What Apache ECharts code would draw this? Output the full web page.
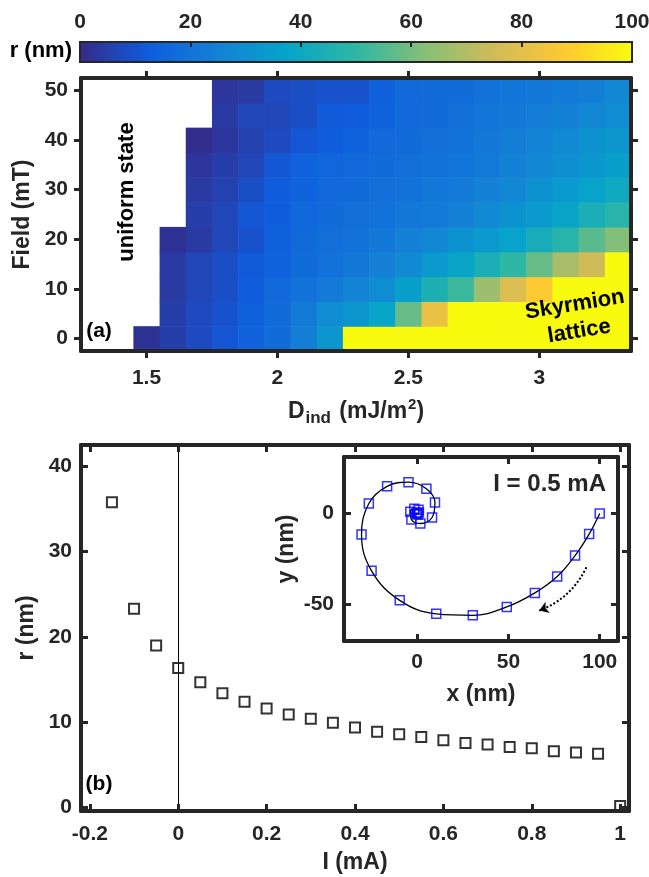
<!DOCTYPE html>
<html>
<head>
<meta charset="utf-8">
<script src="https://cdn.jsdelivr.net/npm/echarts@6/dist/echarts.min.js"></script>
<style>
  html, body { margin: 0; padding: 0; background: #fff; }
  #chart { width: 649px; height: 877px; }
</style>
</head>
<body>
<div id="chart"></div>
<script>
// ---- panel (a): radius map ----
const dValues = [1.5, 1.6, 1.7, 1.8, 1.9, 2.0, 2.1, 2.2, 2.3, 2.4, 2.5, 2.6, 2.7, 2.8, 2.9, 3.0, 3.1, 3.2, 3.3]
const fieldValues = [0, 5, 10, 15, 20, 25, 30, 35, 40, 45, 50]
// r (nm) per field row (same order as fieldValues), null = uniform state, 100 = lattice
const radiusMap = [
  [2, 5, 8, 11, 15, 18, 24, 33, 100, 100, 100, 100, 100, 100, 100, 100, 100, 100, 100],
  [null, 5, 8, 10, 14, 18, 23, 29, 33, 38, 58, 82, 100, 100, 100, 100, 100, 100, 100],
  [null, 4, 7, 9, 13, 17, 20, 23, 26, 29, 36, 45, 52, 66, 78, 88, 100, 100, 100],
  [null, 4, 7, 9, 12, 15, 18, 20, 22, 25, 28, 34, 38, 44, 50, 58, 68, 75, 100],
  [null, 2, 4, 7, 10, 14, 17, 19, 20, 22, 25, 27, 31, 34, 37, 43, 48, 56, 62],
  [null, null, 5, 7, 11, 13, 16, 18, 19, 20, 22, 23, 25, 28, 31, 34, 38, 44, 48],
  [null, null, 4, 6, 9, 13, 15, 17, 18, 19, 20, 22, 23, 25, 27, 31, 34, 37, 41],
  [null, null, 3, 5, 7, 11, 15, 16, 17, 18, 19, 20, 21, 23, 25, 27, 30, 33, 36],
  [null, null, 1, 3, 6, 8, 11, 13, 15, 17, 18, 19, 20, 22, 24, 26, 28, 31, 33],
  [null, null, null, 4, 7, 7, 9, 12, 13, 15, 17, 18, 19, 21, 22, 24, 25, 27, 29],
  [null, null, null, 3, 4, 8, 9, 10, 10, 14, 17, 18, 18, 20, 21, 22, 23, 24, 27],
]
const colorbarTicks = [0, 20, 40, 60, 80, 100]
const dTicks = [1.5, 2, 2.5, 3]
const fieldTicks = [0, 10, 20, 30, 40, 50]

// ---- panel (b): radius vs current ----
const currentValues = [-0.15, -0.1, -0.05, 0, 0.05, 0.1, 0.15, 0.2, 0.25, 0.3, 0.35, 0.4,
  0.45, 0.5, 0.55, 0.6, 0.65, 0.7, 0.75, 0.8, 0.85, 0.9, 0.95, 1.0]
const radiusValues = [35.8, 23.3, 19.0, 16.35, 14.7, 13.4, 12.4, 11.6, 10.9, 10.4, 9.95, 9.4,
  8.9, 8.6, 8.27, 7.9, 7.57, 7.4, 7.1, 6.95, 6.6, 6.45, 6.3, 0.2]
const currentTicks = [-0.2, 0, 0.2, 0.4, 0.6, 0.8, 1]
const radiusTicks = [0, 10, 20, 30, 40]

// ---- inset: trajectory at I = 0.5 mA ----
const trajX = [100, 94.2, 86.5, 76.7, 64.5, 49.1, 30.5, 10.5, -9.5, -24.9, -30.4, -26.4, -16.4,
  -4.7, 5.1, 9.8, 8.2, 1.8, -3.1, -3.7, -1.5, 0.8, 1.0, 0.2, -0.3, 0]
const trajY = [0, -11.3, -23.1, -34.6, -43.6, -51.3, -55.9, -55.1, -47.7, -31.5, -11.5, 5.5, 14.9,
  17.2, 13.6, 6.0, -2.2, -5.5, -3.3, 0.9, 2.6, 2.0, 0.5, -0.5, 0.3, 0]
const arrowStart = [92.7, -29.5]
const arrowEnd = [66.9, -53.3]
const xTicks = [0, 50, 100]
const yTicks = [-50, 0]

const parula = ['#352A87', '#0F5CDD', '#1481D6', '#06A4CA', '#2EB7A4', '#87BF77', '#D1BB59', '#FEC832', '#F9FB0E']
const ink = '#262626'
const fontFamily = 'Liberation Sans, Arial, sans-serif'
const tickFont = { fontFamily, fontWeight: 'bold', fontSize: 21, color: ink }
const titleFont = { fontFamily, fontWeight: 'bold', fontSize: 23, color: ink }
const cellW = 0.1
const cellH = 5

const heatData = []
radiusMap.forEach((row, i) => {
  row.forEach((r, j) => {
    if (r !== null) heatData.push([dValues[j], fieldValues[i], r])
  })
})

function frameAxis(gridIndex, position, min, max, ticks, o) {
  o = o || {}
  const ax = {
    type: 'value', gridIndex, position, min, max, z: 10,
    axisLine: { show: true, onZero: false, lineStyle: { color: ink, width: o.lineWidth || 4 } },
    axisTick: { show: !!ticks, inside: o.inside !== false, length: o.tickLen || 7, customValues: ticks || [],
      lineStyle: { color: ink, width: o.tickWidth || 3 } },
    axisLabel: { show: o.margin !== undefined, margin: o.margin, customValues: ticks || [], ...tickFont },
    splitLine: { show: false },
  }
  if (o.name) {
    ax.name = o.name
    ax.nameLocation = 'middle'
    ax.nameGap = o.nameGap
    ax.nameTextStyle = Object.assign({}, titleFont, o.nameStyle || {})
  }
  return ax
}

function renderCell(params, api) {
  const d = api.value(0)
  const f = api.value(1)
  const p0 = api.coord([d - cellW / 2, f + cellH / 2])
  const p1 = api.coord([d + cellW / 2, f - cellH / 2])
  const shape = echarts.graphic.clipRectByRect(
    { x: p0[0], y: p0[1], width: p1[0] - p0[0] + 0.6, height: p1[1] - p0[1] + 0.6 },
    { x: params.coordSys.x, y: params.coordSys.y, width: params.coordSys.width, height: params.coordSys.height })
  return shape && { type: 'rect', shape, style: { fill: api.visual('color') } }
}

function renderColorbar(params, api) {
  const p0 = api.coord([api.value(0), 1])
  const p1 = api.coord([api.value(1), 0])
  return {
    type: 'rect',
    shape: { x: p0[0], y: p0[1], width: p1[0] - p0[0], height: p1[1] - p0[1] },
    style: {
      fill: new echarts.graphic.LinearGradient(0, 0, 1, 0,
        parula.map((c, i) => ({ offset: i / (parula.length - 1), color: c }))),
      stroke: ink, lineWidth: 2,
    },
  }
}

const chart = echarts.init(document.getElementById('chart'), null, { renderer: 'canvas' })

const textFont = 'bold 22px ' + fontFamily

const option = {
  animation: false,
  backgroundColor: '#fff',
  grid: [
    { left: 80, top: 42, width: 552, height: 20, outerBoundsMode: 'none' },
    { left: 81, top: 78, width: 550, height: 273, outerBoundsMode: 'none' },
    { left: 81, top: 445, width: 548, height: 366, outerBoundsMode: 'none' },
    { left: 344, top: 457, width: 274, height: 184, outerBoundsMode: 'none' },
  ],
  xAxis: [
    frameAxis(0, 'top', 0, 100, colorbarTicks, { margin: 9, lineWidth: 0.01, tickLen: 5, tickWidth: 2 }),
    frameAxis(1, 'bottom', 1.25, 3.35, dTicks, {
      inside: false, margin: 17,
      name: '{a|D}{s|ind}{a| (mJ/m}{p|2}{a|)}', nameGap: 43,
      nameStyle: { rich: {
        a: { ...titleFont, lineHeight: 30 },
        s: { ...titleFont, fontSize: 17, lineHeight: 17, padding: [20, 2, 0, 1], verticalAlign: 'bottom' },
        p: { ...titleFont, fontSize: 15, lineHeight: 15, padding: [0, 0, 22, 1], verticalAlign: 'top' },
      } },
    }),
    frameAxis(1, 'top', 1.25, 3.35, dTicks, { inside: false }),
    frameAxis(2, 'bottom', -0.22, 1.02, currentTicks, { margin: 13, name: 'I (mA)', nameGap: 40 }),
    frameAxis(2, 'top', -0.22, 1.02, currentTicks),
    frameAxis(3, 'bottom', -40, 110, xTicks, { margin: 11, name: 'x (nm)', nameGap: 42 }),
    frameAxis(3, 'top', -40, 110, xTicks),
  ],
  yAxis: [
    frameAxis(0, 'left', 0, 1, null, { lineWidth: 0.01 }),
    frameAxis(1, 'left', -2.5, 52.5, fieldTicks, { inside: false, margin: 13, name: 'Field (mT)', nameGap: 36 }),
    frameAxis(1, 'right', -2.5, 52.5, fieldTicks, { inside: false }),
    frameAxis(2, 'left', -0.4, 42.5, radiusTicks, { margin: 9, name: 'r (nm)', nameGap: 37 }),
    frameAxis(2, 'right', -0.4, 42.5, radiusTicks),
    frameAxis(3, 'left', -70, 31, yTicks, { margin: 10, name: 'y (nm)', nameGap: 46 }),
    frameAxis(3, 'right', -70, 31, yTicks),
  ],
  visualMap: {
    type: 'continuous', show: false, min: 0, max: 100, dimension: 2, seriesIndex: 1,
    inRange: { color: parula },
  },
  series: [
    {
      type: 'custom', xAxisIndex: 0, yAxisIndex: 0, z: 1,
      renderItem: renderColorbar, data: [[colorbarTicks[0], colorbarTicks[colorbarTicks.length - 1]]],
    },
    {
      type: 'custom', xAxisIndex: 1, yAxisIndex: 1, z: 1,
      renderItem: renderCell, data: heatData,
    },
    {
      type: 'scatter', xAxisIndex: 3, yAxisIndex: 3, z: 3,
      symbol: 'rect', symbolSize: 10,
      itemStyle: { color: 'rgba(0,0,0,0)', borderColor: '#000', borderWidth: 2 },
      data: currentValues.map((c, i) => [c, radiusValues[i]]),
      markLine: {
        silent: true, symbol: 'none', label: { show: false },
        lineStyle: { color: '#000', width: 1, type: 'solid' },
        data: [{ xAxis: 0 }],
      },
    },
    {
      type: 'line', xAxisIndex: 5, yAxisIndex: 5, z: 3,
      smooth: 0.4, symbol: 'none',
      lineStyle: { color: '#000', width: 1.3 },
      data: trajX.map((x, i) => [x, trajY[i]]),
    },
    {
      type: 'scatter', xAxisIndex: 5, yAxisIndex: 5, z: 4,
      symbol: 'rect', symbolSize: 9,
      itemStyle: { color: 'rgba(0,0,0,0)', borderColor: '#0000ff', borderWidth: 1.5 },
      data: trajX.map((x, i) => [x, trajY[i]]),
    },
    {
      type: 'lines', coordinateSystem: 'cartesian2d', xAxisIndex: 5, yAxisIndex: 5, z: 4,
      symbol: ['none', 'arrow'], symbolSize: 9,
      lineStyle: { color: '#000', width: 2, type: [2, 2], curveness: 0.2, opacity: 1 },
      data: [{ coords: [arrowStart, arrowEnd] }],
    },
  ],
  graphic: [
    { type: 'text', z: 100, x: 72, y: 51, style: { text: 'r (nm)', align: 'right', verticalAlign: 'middle', font: textFont, fill: '#000' } },
    { type: 'text', z: 100, x: 127, y: 192, rotation: Math.PI / 2, style: { text: 'uniform state', align: 'center', verticalAlign: 'middle', font: textFont, fill: '#000' } },
    { type: 'text', z: 100, x: 577, y: 318, rotation: 0.16, style: { text: 'Skyrmion\nlattice', align: 'center', verticalAlign: 'middle', lineHeight: 27, font: textFont, fill: '#000' } },
    { type: 'text', z: 100, x: 99, y: 331, style: { text: '(a)', align: 'center', verticalAlign: 'middle', font: 'bold 21px ' + fontFamily, fill: '#000' } },
    { type: 'text', z: 100, x: 99, y: 784, style: { text: '(b)', align: 'center', verticalAlign: 'middle', font: 'bold 21px ' + fontFamily, fill: '#000' } },
    { type: 'text', z: 100, x: 606, y: 484, style: { text: 'I = 0.5 mA', align: 'right', verticalAlign: 'middle', font: 'bold 24px ' + fontFamily, fill: ink } },
  ],
}

chart.setOption(option)
</script>
</body>
</html>
